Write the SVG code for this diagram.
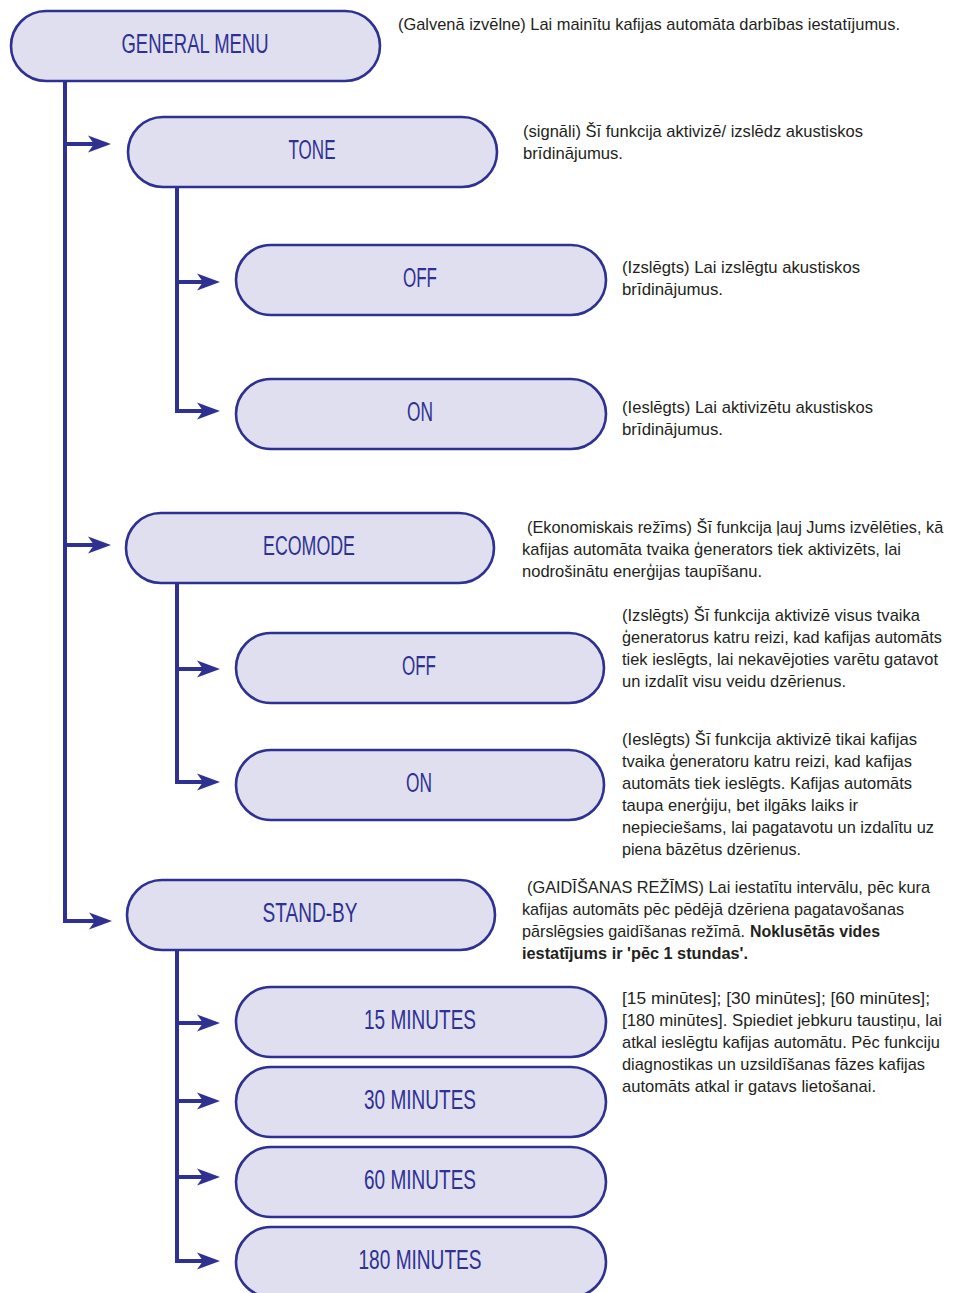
<svg xmlns="http://www.w3.org/2000/svg" width="953" height="1293" viewBox="0 0 953 1293">
  <style>
    .node rect { fill: #dfdff0; stroke: #2e3192; stroke-width: 2.6; }
    .label { font-family: "Liberation Sans", Arial, sans-serif; font-size: 27px; fill: #2e3192; text-anchor: middle; }
    .wire { fill: none; stroke: #2e3192; stroke-width: 4; stroke-linejoin: miter; }
    .desc { font-family: "Liberation Sans Narrow", "Liberation Sans", Arial, sans-serif; font-size: 17px; fill: #231f20; }
    .b { font-weight: bold; }
  </style>
  <defs>
    <marker id="head" markerUnits="userSpaceOnUse" viewBox="-24 -10 25 20" markerWidth="25" markerHeight="20" refX="-17" refY="0" orient="auto">
      <path d="M0,0 L-23,-8.5 L-17,0 L-23,8.5 Z" fill="#2e3192"/>
    </marker>
  </defs>
  <rect width="953" height="1293" fill="#ffffff"/>

  <!-- connectors -->
  <g id="connectors">
    <!-- main trunk -->
    <path class="wire" d="M65,80 V921 H95" marker-end="url(#head)"/>
    <path class="wire" d="M65,144 H94" marker-end="url(#head)"/>
    <path class="wire" d="M65,545 H94" marker-end="url(#head)"/>
    <!-- TONE branch -->
    <path class="wire" d="M177,186 V411 H203" marker-end="url(#head)"/>
    <path class="wire" d="M177,282 H203" marker-end="url(#head)"/>
    <!-- ECOMODE branch -->
    <path class="wire" d="M177,582 V782 H203" marker-end="url(#head)"/>
    <path class="wire" d="M177,669 H203" marker-end="url(#head)"/>
    <!-- STAND-BY branch -->
    <path class="wire" d="M177,949 V1261 H203" marker-end="url(#head)"/>
    <path class="wire" d="M177,1023 H203" marker-end="url(#head)"/>
    <path class="wire" d="M177,1101 H203" marker-end="url(#head)"/>
    <path class="wire" d="M177,1177 H203" marker-end="url(#head)"/>
  </g>

  <!-- nodes -->
  <g id="general-menu" class="node">
    <rect x="11" y="11" width="369" height="70" rx="35"/>
    <text class="label" x="195" y="52.5" textLength="147" lengthAdjust="spacingAndGlyphs">GENERAL MENU</text>
  </g>
  <g id="tone" class="node">
    <rect x="128" y="117" width="369" height="70" rx="35"/>
    <text class="label" x="312" y="158.5" textLength="47" lengthAdjust="spacingAndGlyphs">TONE</text>
  </g>
  <g id="tone-off" class="node">
    <rect x="236" y="245" width="370" height="70" rx="35"/>
    <text class="label" x="420" y="286.5" textLength="34" lengthAdjust="spacingAndGlyphs">OFF</text>
  </g>
  <g id="tone-on" class="node">
    <rect x="236" y="379" width="370" height="70" rx="35"/>
    <text class="label" x="420" y="420.5" textLength="26" lengthAdjust="spacingAndGlyphs">ON</text>
  </g>
  <g id="ecomode" class="node">
    <rect x="126" y="513" width="368" height="70" rx="35"/>
    <text class="label" x="309" y="554.5" textLength="92" lengthAdjust="spacingAndGlyphs">ECOMODE</text>
  </g>
  <g id="ecomode-off" class="node">
    <rect x="236" y="633" width="368" height="70" rx="35"/>
    <text class="label" x="419" y="674.5" textLength="34" lengthAdjust="spacingAndGlyphs">OFF</text>
  </g>
  <g id="ecomode-on" class="node">
    <rect x="236" y="750" width="368" height="70" rx="35"/>
    <text class="label" x="419" y="791.5" textLength="26" lengthAdjust="spacingAndGlyphs">ON</text>
  </g>
  <g id="stand-by" class="node">
    <rect x="127" y="880" width="368" height="70" rx="35"/>
    <text class="label" x="310" y="921.5" textLength="95" lengthAdjust="spacingAndGlyphs">STAND-BY</text>
  </g>
  <g id="min-15" class="node">
    <rect x="236" y="987" width="370" height="70" rx="35"/>
    <text class="label" x="420" y="1028.5" textLength="112" lengthAdjust="spacingAndGlyphs">15 MINUTES</text>
  </g>
  <g id="min-30" class="node">
    <rect x="236" y="1067" width="370" height="70" rx="35"/>
    <text class="label" x="420" y="1108.5" textLength="112" lengthAdjust="spacingAndGlyphs">30 MINUTES</text>
  </g>
  <g id="min-60" class="node">
    <rect x="236" y="1147" width="370" height="70" rx="35"/>
    <text class="label" x="420" y="1188.5" textLength="112" lengthAdjust="spacingAndGlyphs">60 MINUTES</text>
  </g>
  <g id="min-180" class="node">
    <rect x="236" y="1227" width="370" height="70" rx="35"/>
    <text class="label" x="420" y="1268.5" textLength="123" lengthAdjust="spacingAndGlyphs">180 MINUTES</text>
  </g>

  <!-- descriptions -->
  <g id="notes" class="desc">
    <text x="398" y="30" textLength="502" lengthAdjust="spacingAndGlyphs">(Galvenā izvēlne) Lai mainītu kafijas automāta darbības iestatījumus.</text>

    <text x="523" y="137" textLength="340" lengthAdjust="spacingAndGlyphs">(signāli) Šī funkcija aktivizē/ izslēdz akustiskos</text>
    <text x="523" y="159" textLength="100" lengthAdjust="spacingAndGlyphs">brīdinājumus.</text>

    <text x="622" y="273" textLength="238" lengthAdjust="spacingAndGlyphs">(Izslēgts) Lai izslēgtu akustiskos</text>
    <text x="622" y="295" textLength="101" lengthAdjust="spacingAndGlyphs">brīdinājumus.</text>

    <text x="622" y="413" textLength="251" lengthAdjust="spacingAndGlyphs">(Ieslēgts) Lai aktivizētu akustiskos</text>
    <text x="622" y="435" textLength="101" lengthAdjust="spacingAndGlyphs">brīdinājumus.</text>

    <!-- long lines near the right edge: narrowed by a horizontal scale -->
    <text transform="translate(527,533) scale(0.86,1)" x="0" y="0" textLength="484" lengthAdjust="spacingAndGlyphs">(Ekonomiskais režīms) Šī funkcija ļauj Jums izvēlēties, kā</text>
    <text x="522" y="555" textLength="379" lengthAdjust="spacingAndGlyphs">kafijas automāta tvaika ģenerators tiek aktivizēts, lai</text>
    <text x="522" y="577" textLength="240" lengthAdjust="spacingAndGlyphs">nodrošinātu enerģijas taupīšanu.</text>

    <text x="622" y="621" textLength="298" lengthAdjust="spacingAndGlyphs">(Izslēgts) Šī funkcija aktivizē visus tvaika</text>
    <text transform="translate(622,643) scale(0.86,1)" x="0" y="0" textLength="372" lengthAdjust="spacingAndGlyphs">ģeneratorus katru reizi, kad kafijas automāts</text>
    <text x="622" y="665" textLength="316" lengthAdjust="spacingAndGlyphs">tiek ieslēgts, lai nekavējoties varētu gatavot</text>
    <text x="622" y="687" textLength="224" lengthAdjust="spacingAndGlyphs">un izdalīt visu veidu dzērienus.</text>

    <text x="622" y="745" textLength="295" lengthAdjust="spacingAndGlyphs">(Ieslēgts) Šī funkcija aktivizē tikai kafijas</text>
    <text x="622" y="767" textLength="290" lengthAdjust="spacingAndGlyphs">tvaika ģeneratoru katru reizi, kad kafijas</text>
    <text x="622" y="789" textLength="290" lengthAdjust="spacingAndGlyphs">automāts tiek ieslēgts. Kafijas automāts</text>
    <text x="622" y="811" textLength="236" lengthAdjust="spacingAndGlyphs">taupa enerģiju, bet ilgāks laiks ir</text>
    <text x="622" y="833" textLength="312" lengthAdjust="spacingAndGlyphs">nepieciešams, lai pagatavotu un izdalītu uz</text>
    <text x="622" y="855" textLength="179" lengthAdjust="spacingAndGlyphs">piena bāzētus dzērienus.</text>

    <text x="527" y="893" textLength="403" lengthAdjust="spacingAndGlyphs">(GAIDĪŠANAS REŽĪMS) Lai iestatītu intervālu, pēc kura</text>
    <text x="522" y="915" textLength="382" lengthAdjust="spacingAndGlyphs">kafijas automāts pēc pēdējā dzēriena pagatavošanas</text>
    <text x="522" y="937" textLength="223" lengthAdjust="spacingAndGlyphs">pārslēgsies gaidīšanas režīmā.</text>
    <text class="b" x="750" y="937" textLength="130" lengthAdjust="spacingAndGlyphs">Noklusētās vides</text>
    <text class="b" x="522" y="959" textLength="226" lengthAdjust="spacingAndGlyphs">iestatījums ir 'pēc 1 stundas'.</text>

    <text x="622" y="1004" textLength="308" lengthAdjust="spacingAndGlyphs">[15 minūtes]; [30 minūtes]; [60 minūtes];</text>
    <text x="622" y="1026" textLength="320" lengthAdjust="spacingAndGlyphs">[180 minūtes]. Spiediet jebkuru taustiņu, lai</text>
    <text x="622" y="1048" textLength="318" lengthAdjust="spacingAndGlyphs">atkal ieslēgtu kafijas automātu. Pēc funkciju</text>
    <text x="622" y="1070" textLength="303" lengthAdjust="spacingAndGlyphs">diagnostikas un uzsildīšanas fāzes kafijas</text>
    <text x="622" y="1092" textLength="254" lengthAdjust="spacingAndGlyphs">automāts atkal ir gatavs lietošanai.</text>
  </g>
</svg>
